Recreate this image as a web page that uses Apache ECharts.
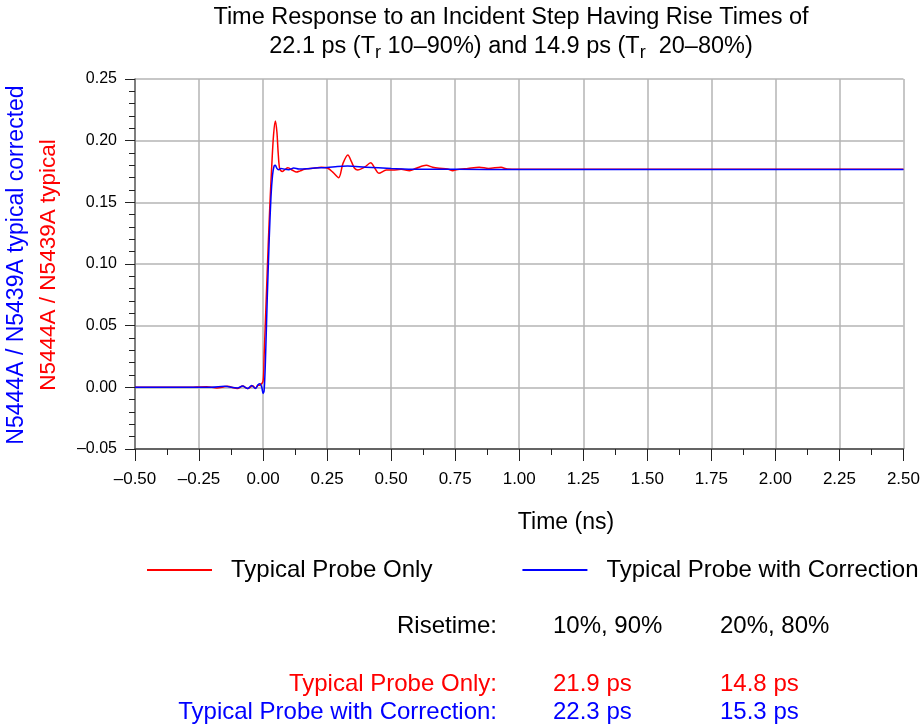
<!DOCTYPE html>
<html>
<head>
<meta charset="utf-8">
<script src="https://cdn.jsdelivr.net/npm/echarts@6/dist/echarts.min.js"></script>
<style>html,body{margin:0;padding:0;background:#fff}#c{width:923px;height:728px}</style>
</head>
<body>
<div id="c"></div>
<script>
// Time axis (ns) and values for "Typical Probe Only" (red)
const redTime = [-0.5, -0.3, -0.22, -0.18, -0.14, -0.10, -0.08, -0.06, -0.04, -0.03, -0.02, -0.01, 0.0, 0.004, 0.012, 0.02, 0.027, 0.034, 0.041, 0.048, 0.054, 0.059, 0.065, 0.075, 0.085, 0.097, 0.115, 0.13, 0.145, 0.162, 0.195, 0.227, 0.253, 0.272, 0.295, 0.312, 0.331, 0.345, 0.357, 0.370, 0.396, 0.420, 0.437, 0.452, 0.481, 0.507, 0.539, 0.572, 0.598, 0.637, 0.662, 0.688, 0.72, 0.741, 0.754, 0.8, 0.844, 0.88, 0.929, 0.953, 1.0, 1.5, 2.0, 2.5];
const redValue = [0, 0, 0.0005, -0.0005, 0.0008, -0.001, 0.001, -0.001, 0.0012, -0.0008, 0.0015, 0.002, 0.005, 0.025, 0.07, 0.115, 0.15, 0.18, 0.205, 0.216, 0.207, 0.19, 0.177, 0.175, 0.1765, 0.178, 0.176, 0.1745, 0.1755, 0.1768, 0.1776, 0.1784, 0.1776, 0.1745, 0.170, 0.1816, 0.1884, 0.183, 0.1776, 0.1762, 0.1785, 0.182, 0.1775, 0.1735, 0.1762, 0.1762, 0.1768, 0.1757, 0.1776, 0.180, 0.1784, 0.1776, 0.177, 0.1757, 0.1765, 0.1775, 0.1784, 0.1775, 0.1784, 0.177, 0.1768, 0.1768, 0.1768, 0.1768];
// Time axis (ns) and values for "Typical Probe with Correction" (blue)
const blueTime = [-0.5, -0.2, -0.15, -0.1, -0.08, -0.06, -0.045, -0.03, -0.02, -0.012, -0.005, 0.0, 0.004, 0.009, 0.016, 0.024, 0.031, 0.037, 0.043, 0.048, 0.054, 0.06, 0.07, 0.085, 0.1, 0.12, 0.14, 0.17, 0.2, 0.25, 0.29, 0.33, 0.4, 0.5, 0.6, 0.75, 1.0, 1.5, 2.0, 2.5];
const blueValue = [0, 0, 0.0008, -0.0005, 0.001, -0.001, 0.0015, -0.001, 0.002, 0.003, 0.0, -0.005, -0.003, 0.02, 0.07, 0.12, 0.155, 0.172, 0.1795, 0.180, 0.1775, 0.1765, 0.1775, 0.1768, 0.1765, 0.1778, 0.177, 0.1772, 0.1778, 0.1782, 0.179, 0.1794, 0.1785, 0.1775, 0.1768, 0.1768, 0.1766, 0.1766, 0.1766, 0.1766];

const seriesNames = ['Typical Probe Only', 'Typical Probe with Correction'];
const xTicks = {min: -0.5, max: 2.5, step: 0.25};
const yTicks = {min: -0.05, max: 0.25, step: 0.05};
const tableHeader = ['Risetime:', '10%, 90%', '20%, 80%'];
const tableRed = ['Typical Probe Only:', '21.9 ps', '14.8 ps'];
const tableBlue = ['Typical Probe with Correction:', '22.3 ps', '15.3 ps'];

const FONT = '"Liberation Sans", Arial, sans-serif';
const RED = '#ff0000', BLUE = '#0000ff';

function pairs(t, v) { return t.map((x, i) => [x, v[i]]); }

const chart = echarts.init(document.getElementById('c'), null, {renderer: 'canvas'});

function txt(x, y, text, color, align, size) {
  return {type: 'text', x: x, y: y, style: {text: text, fill: color, font: (size || 24) + 'px ' + FONT, textAlign: align || 'left', textVerticalAlign: 'middle'}};
}

chart.setOption({
  animation: false,
  backgroundColor: '#fff',
  textStyle: {fontFamily: FONT},
  grid: {left: 135, right: 18, top: 79, bottom: 279, containLabel: false},
  xAxis: {
    type: 'value', min: xTicks.min, max: xTicks.max, interval: xTicks.step,
    axisLine: {show: true, onZero: false, lineStyle: {color: '#444', width: 1.5}},
    axisTick: {show: true, length: 12, lineStyle: {color: '#222', width: 1}},
    minorTick: {show: true, splitNumber: 2, length: 6, lineStyle: {color: '#222', width: 1}},
    splitLine: {show: true, lineStyle: {color: '#b4b4b4', width: 1.5}},
    axisLabel: {fontSize: 17, color: '#000', margin: 22, fontFamily: FONT,
      formatter: v => v.toFixed(2).replace('-', '\u2013')}
  },
  yAxis: {
    type: 'value', min: yTicks.min, max: yTicks.max, interval: yTicks.step,
    axisLine: {show: true, onZero: false, lineStyle: {color: '#666', width: 1.5}},
    axisTick: {show: true, length: 10, lineStyle: {color: '#222', width: 1}},
    minorTick: {show: true, splitNumber: 5, length: 6, lineStyle: {color: '#222', width: 1}},
    splitLine: {show: true, lineStyle: {color: '#b4b4b4', width: 1.5}},
    axisLabel: {fontSize: 16, color: '#000', margin: 18, fontFamily: FONT,
      formatter: v => v.toFixed(2).replace('-', '\u2013')}
  },
  legend: {
    left: 142, top: 553, width: 1000, itemWidth: 65, itemHeight: 14, itemGap: 90,
    icon: 'path://M0,6 L65,6 L65,8 L0,8 Z',
    textStyle: {fontSize: 24, color: '#000', fontFamily: FONT, padding: [0, 0, 0, 14]},
    data: seriesNames
  },
  series: [
    {name: seriesNames[0], type: 'line', data: pairs(redTime, redValue), showSymbol: false, symbol: 'none',
     smooth: 0.3, lineStyle: {color: RED, width: 1.5}, itemStyle: {color: RED}},
    {name: seriesNames[1], type: 'line', data: pairs(blueTime, blueValue), showSymbol: false, symbol: 'none',
     smooth: 0.3, lineStyle: {color: BLUE, width: 1.5}, itemStyle: {color: BLUE}}
  ],
  graphic: [
    txt(511, 18, 'Time Response to an Incident Step Having Rise Times of', '#000', 'center', 23.5),
    {type: 'text', x: 511, y: 47, style: {
      text: '22.1 ps (T{sub|r} 10\u201390%) and 14.9 ps (T{sub|r}  20\u201380%)',
      rich: {sub: {fontSize: 18, padding: [12, 0, 0, 0], fontFamily: FONT}},
      fill: '#000', font: '23.5px ' + FONT, textAlign: 'center', textVerticalAlign: 'middle'}},
    txt(566, 523, 'Time (ns)', '#000', 'center', 23),
    Object.assign(txt(17, 265, 'N5444A / N5439A typical corrected', BLUE, 'center', 23), {rotation: Math.PI / 2}),
    Object.assign(txt(49, 265, 'N5444A / N5439A typical', RED, 'center', 22.5), {rotation: Math.PI / 2}),
    txt(497, 626, tableHeader[0], '#000', 'right'),
    txt(553, 626, tableHeader[1], '#000', 'left'),
    txt(720, 626, tableHeader[2], '#000', 'left'),
    txt(497, 684, tableRed[0], RED, 'right'),
    txt(553, 684, tableRed[1], RED, 'left'),
    txt(720, 684, tableRed[2], RED, 'left'),
    txt(497, 712, tableBlue[0], BLUE, 'right'),
    txt(553, 712, tableBlue[1], BLUE, 'left'),
    txt(720, 712, tableBlue[2], BLUE, 'left')
  ]
});
</script>
</body>
</html>
